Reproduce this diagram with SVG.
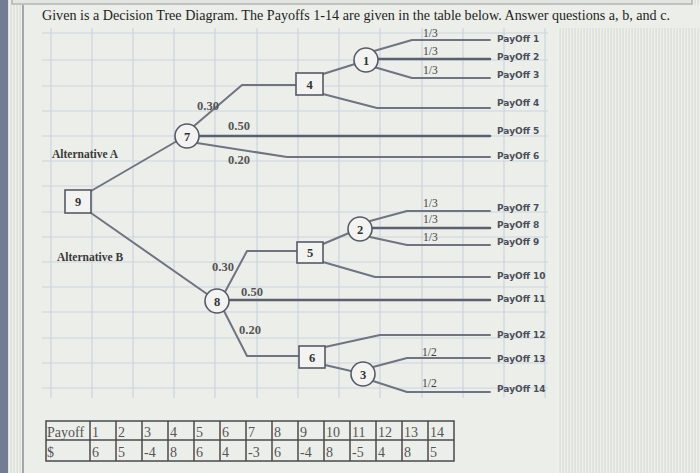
<svg xmlns="http://www.w3.org/2000/svg" width="700" height="473" viewBox="0 0 700 473">
<defs>
<pattern id="stripes" width="3" height="10" patternUnits="userSpaceOnUse">
<rect width="3" height="10" fill="#dfe1dc"/>
<rect width="1.3" height="10" fill="#eff1ed"/>
</pattern>
<style>
.edge{fill:none;stroke:#6e7482;stroke-width:2;stroke-linejoin:round;stroke-linecap:round}
.thick{stroke:#5a606e;stroke-width:2.6}
.node{fill:#f3f4f1;stroke:#555b66;stroke-width:1.6}
.nl{font-family:"Liberation Serif",serif;font-weight:bold;font-size:12.5px;fill:#333;text-anchor:middle}
.prob{font-family:"Liberation Serif",serif;font-weight:bold;font-size:12.5px;fill:#555}
.frac{font-family:"Liberation Serif",serif;font-size:11.5px;fill:#3f3f3f}
.pay{font-family:"DejaVu Sans",sans-serif;font-weight:bold;font-size:9px;fill:#4a4e5a}
.alt{font-family:"Liberation Serif",serif;font-weight:bold;font-size:11.5px;fill:#3a3a3a}
.grid{stroke:#ccd4de;stroke-width:1.2}
.tbl{font-family:"Liberation Serif",serif;font-size:14px;fill:#555}
.tline{stroke:#4a4a4a;stroke-width:1.5;fill:none}
</style>
</defs>

<!-- background -->
<rect width="700" height="473" fill="url(#stripes)"/>
<rect x="23" y="5" width="535" height="468" fill="#eceee9"/>
<rect x="23" y="5" width="677" height="23" fill="#eceee9"/>
<rect x="0" y="0" width="8" height="473" fill="#727c93"/>
<line x1="23" y1="5" x2="23" y2="473" stroke="#8a8f95" stroke-width="1.5"/>
<rect x="12" y="-2" width="680" height="6" fill="#e3e5e1" stroke="#9a9ea3" stroke-width="1"/>

<!-- grid -->
<g id="grid" class="grid">
<line x1="51" y1="28" x2="51" y2="398"/>
<line x1="92" y1="28" x2="92" y2="398"/>
<line x1="133" y1="28" x2="133" y2="398"/>
<line x1="174" y1="28" x2="174" y2="398"/>
<line x1="215" y1="28" x2="215" y2="398"/>
<line x1="257" y1="28" x2="257" y2="398"/>
<line x1="298" y1="28" x2="298" y2="398"/>
<line x1="339" y1="28" x2="339" y2="398"/>
<line x1="380" y1="28" x2="380" y2="398"/>
<line x1="422" y1="28" x2="422" y2="398"/>
<line x1="463" y1="28" x2="463" y2="398"/>
<line x1="504" y1="28" x2="504" y2="398"/>
<line x1="545" y1="28" x2="545" y2="398"/>
<line x1="42" y1="33" x2="548" y2="33"/>
<line x1="42" y1="60" x2="548" y2="60"/>
<line x1="42" y1="86" x2="548" y2="86"/>
<line x1="42" y1="111" x2="548" y2="111"/>
<line x1="42" y1="136" x2="548" y2="136"/>
<line x1="42" y1="161" x2="548" y2="161"/>
<line x1="42" y1="186" x2="548" y2="186"/>
<line x1="42" y1="212" x2="548" y2="212"/>
<line x1="42" y1="237" x2="548" y2="237"/>
<line x1="42" y1="262" x2="548" y2="262"/>
<line x1="42" y1="287" x2="548" y2="287"/>
<line x1="42" y1="312" x2="548" y2="312"/>
<line x1="42" y1="338" x2="548" y2="338"/>
<line x1="42" y1="363" x2="548" y2="363"/>
<line x1="42" y1="388" x2="548" y2="388"/>
</g>

<!-- title -->
<text x="42" y="19.5" font-family="Liberation Serif, serif" font-size="14" fill="#1e1e1e" textLength="628" lengthAdjust="spacingAndGlyphs">Given is a Decision Tree Diagram. The Payoffs 1-14 are given in the table below. Answer questions a, b, and c.</text>

<!-- connectors -->
<g id="connectors" class="edge">
<path d="M91,191 L177,141"/>
<path d="M91,213 L207,294"/>
<path d="M194,126 L242,85 L296,85"/>
<path class="thick" d="M199,136 L490,136"/>
<path d="M197,143 L287,157 L490,157"/>
<path d="M323,74 L355,64"/>
<path d="M323,94 L377,108 L490,108"/>
<path d="M374,51 L412,40 L490,40"/>
<path class="thick" d="M378,59 L490,59"/>
<path d="M374,67 L412,78 L490,78"/>
<path d="M225,292 L247,251 L297,251"/>
<path class="thick" d="M229,300 L490,300"/>
<path d="M224,311 L247,356 L299,356"/>
<path d="M323,244 L349,233"/>
<path d="M323,262 L375,277 L490,277"/>
<path d="M370,221 L407,211 L490,211"/>
<path class="thick" d="M372,228 L490,228"/>
<path d="M370,237 L407,245 L490,245"/>
<path d="M325,347 L380,335 L490,335"/>
<path d="M325,365 L351,371"/>
<path d="M373,367 L407,358 L490,358"/>
<path d="M373,381 L407,392 L490,392"/>
</g>

<!-- edge labels -->
<g id="edge-labels">
<text class="alt" x="52" y="158">Alternative A</text>
<text class="alt" x="57" y="261">Alternative B</text>
<text class="prob" x="197" y="110">0.30</text>
<text class="prob" x="228" y="130">0.50</text>
<text class="prob" x="228" y="164">0.20</text>
<text class="prob" x="212" y="271">0.30</text>
<text class="prob" x="241" y="296">0.50</text>
<text class="prob" x="239" y="334">0.20</text>
<text class="frac" x="423" y="37">1/3</text>
<text class="frac" x="423" y="55">1/3</text>
<text class="frac" x="423" y="74">1/3</text>
<text class="frac" x="423" y="207">1/3</text>
<text class="frac" x="423" y="223">1/3</text>
<text class="frac" x="423" y="241">1/3</text>
<text class="frac" x="422" y="356">1/2</text>
<text class="frac" x="422" y="387">1/2</text>
</g>

<!-- nodes -->
<g id="node-9"><rect class="node" x="65" y="190" width="26" height="23"/><text class="nl" x="78" y="206">9</text></g>
<g id="node-7"><circle class="node" cx="187" cy="136" r="12"/><text class="nl" x="187" y="140.5">7</text></g>
<g id="node-8"><circle class="node" cx="217" cy="301" r="12"/><text class="nl" x="217" y="305.5">8</text></g>
<g id="node-4"><rect class="node" x="296" y="73" width="27" height="22"/><text class="nl" x="309.5" y="88.5">4</text></g>
<g id="node-5"><rect class="node" x="297" y="242" width="26" height="21"/><text class="nl" x="310" y="257">5</text></g>
<g id="node-6"><rect class="node" x="299" y="346" width="26" height="22"/><text class="nl" x="312" y="361.5">6</text></g>
<g id="node-1"><circle class="node" cx="366" cy="60" r="12"/><text class="nl" x="366" y="64.5">1</text></g>
<g id="node-2"><circle class="node" cx="360" cy="229" r="12"/><text class="nl" x="360" y="233.5">2</text></g>
<g id="node-3"><circle class="node" cx="363" cy="374" r="12"/><text class="nl" x="363" y="378.5">3</text></g>

<!-- payoff labels -->
<g id="payoffs">
<text class="pay" x="497" y="42">PayOff 1</text>
<text class="pay" x="497" y="60">PayOff 2</text>
<text class="pay" x="497" y="78">PayOff 3</text>
<text class="pay" x="497" y="106">PayOff 4</text>
<text class="pay" x="497" y="134">PayOff 5</text>
<text class="pay" x="497" y="159">PayOff 6</text>
<text class="pay" x="497" y="211">PayOff 7</text>
<text class="pay" x="497" y="228">PayOff 8</text>
<text class="pay" x="497" y="245">PayOff 9</text>
<text class="pay" x="497" y="279">PayOff 10</text>
<text class="pay" x="497" y="302">PayOff 11</text>
<text class="pay" x="497" y="338">PayOff 12</text>
<text class="pay" x="497" y="362">PayOff 13</text>
<text class="pay" x="497" y="392">PayOff 14</text>
</g>

<!-- table -->
<g id="payoff-table">
<rect x="46" y="421" width="408" height="40" fill="#f1f2ef" class="tline"/>
<line class="tline" x1="46" y1="440" x2="454" y2="440"/>
<line class="tline" x1="90" y1="421" x2="90" y2="461"/>
<line class="tline" x1="116" y1="421" x2="116" y2="461"/>
<line class="tline" x1="142" y1="421" x2="142" y2="461"/>
<line class="tline" x1="168" y1="421" x2="168" y2="461"/>
<line class="tline" x1="194" y1="421" x2="194" y2="461"/>
<line class="tline" x1="220" y1="421" x2="220" y2="461"/>
<line class="tline" x1="246" y1="421" x2="246" y2="461"/>
<line class="tline" x1="272" y1="421" x2="272" y2="461"/>
<line class="tline" x1="298" y1="421" x2="298" y2="461"/>
<line class="tline" x1="324" y1="421" x2="324" y2="461"/>
<line class="tline" x1="350" y1="421" x2="350" y2="461"/>
<line class="tline" x1="376" y1="421" x2="376" y2="461"/>
<line class="tline" x1="402" y1="421" x2="402" y2="461"/>
<line class="tline" x1="428" y1="421" x2="428" y2="461"/>
<text class="tbl" x="47" y="437">Payoff</text>
<text class="tbl" x="92" y="437">1</text>
<text class="tbl" x="118" y="437">2</text>
<text class="tbl" x="144" y="437">3</text>
<text class="tbl" x="170" y="437">4</text>
<text class="tbl" x="196" y="437">5</text>
<text class="tbl" x="222" y="437">6</text>
<text class="tbl" x="248" y="437">7</text>
<text class="tbl" x="274" y="437">8</text>
<text class="tbl" x="300" y="437">9</text>
<text class="tbl" x="326" y="437">10</text>
<text class="tbl" x="352" y="437">11</text>
<text class="tbl" x="378" y="437">12</text>
<text class="tbl" x="404" y="437">13</text>
<text class="tbl" x="430" y="437">14</text>
<text class="tbl" x="47" y="457">$</text>
<text class="tbl" x="92" y="457">6</text>
<text class="tbl" x="118" y="457">5</text>
<text class="tbl" x="144" y="457">-4</text>
<text class="tbl" x="170" y="457">8</text>
<text class="tbl" x="196" y="457">6</text>
<text class="tbl" x="222" y="457">4</text>
<text class="tbl" x="248" y="457">-3</text>
<text class="tbl" x="274" y="457">6</text>
<text class="tbl" x="300" y="457">-4</text>
<text class="tbl" x="326" y="457">8</text>
<text class="tbl" x="352" y="457">-5</text>
<text class="tbl" x="378" y="457">4</text>
<text class="tbl" x="404" y="457">8</text>
<text class="tbl" x="430" y="457">5</text>
</g>
</svg>
